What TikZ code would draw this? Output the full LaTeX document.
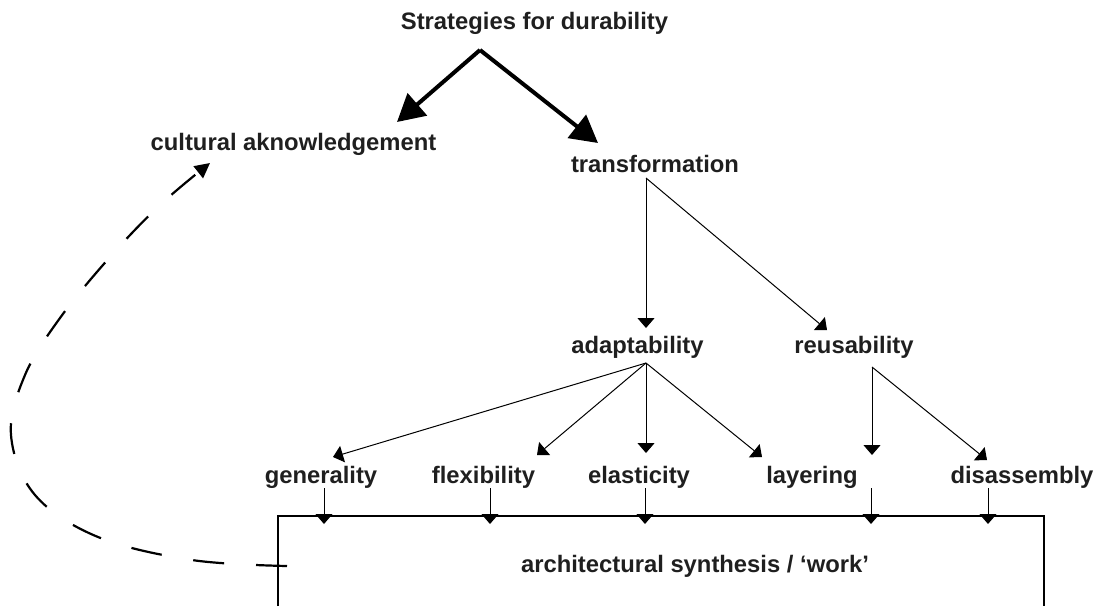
\documentclass[tikz,border=0pt]{standalone}
\usepackage{fontspec}
\setmainfont{Liberation Sans}
\usetikzlibrary{arrows.meta}
\begin{document}
\begin{tikzpicture}[x=1pt,y=-1pt,
  lbl/.style={font=\fontsize{23.8}{26}\selectfont\bfseries, anchor=base, inner sep=0pt, text=black!88},
  thinarrow/.style={line width=1pt, -{Triangle[length=10pt,width=17pt]}},
  thickarrow/.style={line width=4pt, -{Triangle[length=27pt,width=29pt]}},
  dsh/.style={line width=2.2pt, dash pattern=on 31pt off 32pt, -{Triangle[length=15pt,width=15pt]}},
  frame/.style={line width=1.6pt}]
\useasboundingbox (0,0) rectangle (1099,606);

% labels
\node[lbl] (strat) at (534.5,29) {Strategies for durability};
\node[lbl] (cult) at (293.5,150) {cultural aknowledgement};
\node[lbl] (trans) at (655,172) {transformation};
\node[lbl] (adapt) at (637.5,353) {adaptability};
\node[lbl] (reuse) at (854,353) {reusability};
\node[lbl] (gen) at (321,483) {generality};
\node[lbl] (flex) at (483.5,483) {flexibility};
\node[lbl] (elas) at (639,483) {elasticity};
\node[lbl] (layer) at (812,483) {layering};
\node[lbl] (dis) at (1022,483) {disassembly};
\node[lbl] (work) at (695,572) {architectural synthesis / `work'};

% connector points
\coordinate (apex) at (480,50);
\coordinate (cultIn) at (397,122);
\coordinate (transIn) at (598,143);
\coordinate (transOut) at (646,178);
\coordinate (adaptIn) at (646,328);
\coordinate (reuseIn) at (827,330);
\coordinate (adaptOut) at (646,363);
\coordinate (genIn) at (333,457);
\coordinate (flexIn) at (537,455);
\coordinate (elasIn) at (646,453);
\coordinate (layerIn) at (762,457);
\coordinate (reuseOut) at (872,367);
\coordinate (reuseDown) at (872,455);
\coordinate (disIn) at (987,460);
\coordinate (dashStart) at (287,566);
\coordinate (cultBack) at (210,163);

% frame of the work box
\draw[frame] (278,606) -- (278,516) -- (1044,516) -- (1044,606);

% thick arrows
\draw[thickarrow] (apex) -- (cultIn);
\draw[thickarrow] (apex) -- (transIn);

% thin arrows
\draw[thinarrow] (transOut) -- (adaptIn);
\draw[thinarrow] (transOut) -- (reuseIn);
\draw[thinarrow] (adaptOut) -- (genIn);
\draw[thinarrow] (adaptOut) -- (flexIn);
\draw[thinarrow] (adaptOut) -- (elasIn);
\draw[thinarrow] (adaptOut) -- (layerIn);
\draw[thinarrow] (reuseOut) -- (reuseDown);
\draw[thinarrow] (reuseOut) -- (disIn);

% arrows into the box
\foreach \n/\x in {g/324, f/490, e/645, l/871, d/988} {
  \coordinate (top\n) at (\x,488);
  \coordinate (box\n) at (\x,524);
  \draw[thinarrow] (top\n) -- (box\n);
}

% dashed feedback arrow
\draw[dsh] plot[smooth, tension=0.6] coordinates {(dashStart) (192,560) (98,537) (35,495) (11,435) (25,375) (60,318) (110,257) (160,205) (cultBack)};
\end{tikzpicture}
\end{document}
